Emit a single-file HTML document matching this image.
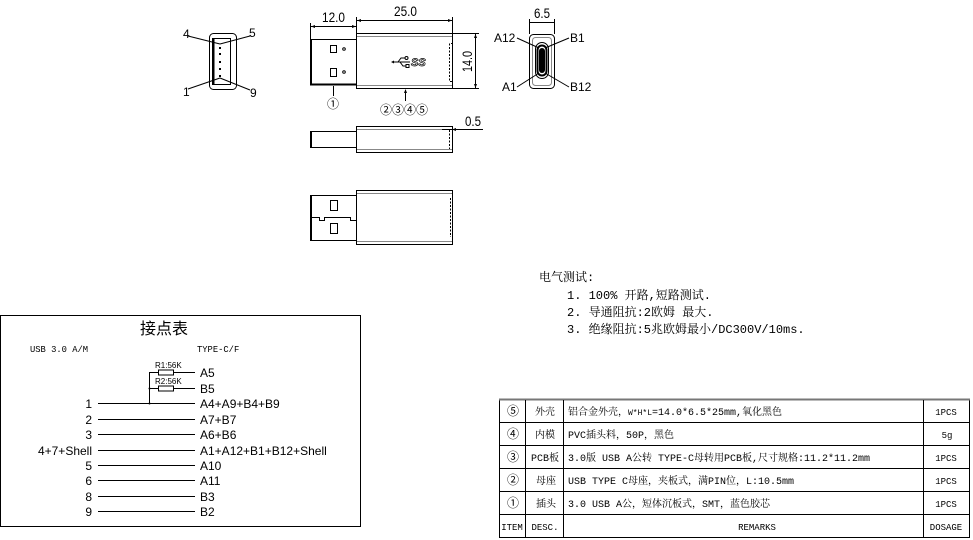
<!DOCTYPE html>
<html><head><meta charset="utf-8"><style>
html,body{margin:0;padding:0;background:#fff;}
svg{display:block;}
.s{font-family:"Liberation Sans","Noto Sans CJK SC",sans-serif;}
.m{font-family:"Liberation Mono","Noto Serif CJK SC",monospace;}
.c{font-family:"Noto Sans CJK SC","DejaVu Sans",sans-serif;}
</style></head><body>
<svg width="973" height="540" viewBox="0 0 973 540" xmlns="http://www.w3.org/2000/svg">
<g fill="none" stroke="#000" stroke-width="1">
<!-- USB A front view -->
<rect x="209.5" y="33.5" width="27" height="56" rx="4"/>
<rect x="212.5" y="38.5" width="18" height="46"/>
<line x1="213.5" y1="39" x2="213.5" y2="84" stroke-width="2"/>
<line x1="188" y1="36" x2="220" y2="44"/>
<line x1="250" y1="36" x2="220" y2="44"/>
<line x1="188" y1="89" x2="220" y2="78"/>
<line x1="250" y1="90" x2="220" y2="78"/>
</g>
<g fill="#000">
<rect x="219" y="47" width="2" height="2"/><rect x="219" y="53" width="2" height="2"/><rect x="219" y="61" width="2" height="2"/><rect x="219" y="68" width="2" height="2"/><rect x="219" y="75" width="2" height="2"/>
</g>
<g class="s" font-size="12" fill="#000">
<text x="183" y="38">4</text><text x="249" y="37">5</text><text x="183" y="96">1</text><text x="250" y="97">9</text>
</g>

<!-- Side view top -->
<g fill="none" stroke="#000" stroke-width="1">
<rect x="310.5" y="39.5" width="46" height="45"/>
<line x1="311" y1="39" x2="311" y2="85" stroke-width="2"/>
<line x1="310" y1="84.5" x2="357" y2="84.5" stroke-width="2"/>
<rect x="356.5" y="33.5" width="96" height="55"/>
<line x1="357" y1="36.5" x2="452" y2="36.5" stroke="#888"/>
<line x1="357" y1="85.5" x2="452" y2="85.5" stroke="#888"/>
<path d="M453 43.5 H449.5 V81.5 H453" stroke-dasharray="2,1.5"/>
<rect x="330.5" y="45.5" width="6" height="7"/>
<rect x="330.5" y="68.5" width="6" height="8"/>
<circle cx="344" cy="49" r="1.3"/>
<circle cx="344" cy="72" r="1.3"/>
<!-- dims -->
<line x1="310.5" y1="23" x2="310.5" y2="39"/>
<line x1="356.5" y1="17" x2="356.5" y2="33"/>
<line x1="452.5" y1="17" x2="452.5" y2="33"/>
<line x1="311" y1="26.5" x2="356" y2="26.5"/>
<line x1="357" y1="20.5" x2="452" y2="20.5"/>
<line x1="453" y1="33.5" x2="479" y2="33.5"/>
<line x1="453" y1="88.5" x2="479" y2="88.5"/>
<line x1="475.5" y1="34" x2="475.5" y2="88"/>
<!-- leaders -->
<line x1="333.5" y1="86" x2="333.5" y2="96"/>
<line x1="405.5" y1="90" x2="405.5" y2="101"/>
<!-- SS logo -->
<path d="M392 62 H410 M398 62 L401 58 H405 M400 62 L403 66 H406"/>
<circle cx="406.5" cy="58" r="1.5"/>
<rect x="406" y="64.5" width="3" height="3"/>
</g>
<g fill="#000">
<path d="M311 26.5 l4 -1.5 v3z M356 26.5 l-4 -1.5 v3z M357 20.5 l4 -1.5 v3z M452 20.5 l-4 -1.5 v3z M475.5 34 l-1.5 4 h3z M475.5 88 l-1.5 -4 h3z M405.5 89 l-1.5 4 h3z M391 62 l3 -1.5 v3z"/>
</g>
<text x="411" y="66" font-family="Liberation Sans" font-style="italic" font-weight="bold" font-size="11" fill="#fff" stroke="#000" stroke-width="0.7">SS</text>
<g class="s" font-size="14" fill="#000">
<text x="322" y="22" textLength="23" lengthAdjust="spacingAndGlyphs">12.0</text>
<text x="394" y="16" textLength="23" lengthAdjust="spacingAndGlyphs">25.0</text>
<text x="534" y="18" textLength="16" lengthAdjust="spacingAndGlyphs">6.5</text>
<text x="0" y="0" transform="translate(472,72) rotate(-90)" textLength="21" lengthAdjust="spacingAndGlyphs">14.0</text>
<text x="465" y="126" textLength="16" lengthAdjust="spacingAndGlyphs">0.5</text>
</g>
<g class="c" font-size="12" fill="#000">
<text x="327" y="108">①</text>
<text x="380" y="114">②③④⑤</text>
</g>

<!-- Type-C front view -->
<g fill="none" stroke="#000" stroke-width="1">
<rect x="529.5" y="34.5" width="25" height="54" rx="4"/>
<rect x="532.5" y="37.5" width="19" height="48" rx="3" stroke="#888"/>
<rect x="535.5" y="42.5" width="13" height="36" rx="6.5"/>
<rect x="537.5" y="45.5" width="9" height="30" rx="4.5" stroke-width="2"/>
<line x1="529.5" y1="19" x2="529.5" y2="34"/>
<line x1="554.5" y1="19" x2="554.5" y2="34"/>
<line x1="530" y1="22.5" x2="554" y2="22.5"/>
<line x1="517" y1="38" x2="539" y2="48"/>
<line x1="569" y1="38" x2="545" y2="48"/>
<line x1="517" y1="87" x2="539" y2="73"/>
<line x1="569" y1="87" x2="545" y2="73"/>
</g>
<rect x="539" y="48" width="6" height="25" rx="3" fill="#000"/>
<g class="s" font-size="12" fill="#000">
<text x="494" y="42">A12</text><text x="570" y="42">B1</text>
<text x="502" y="91">A1</text><text x="570" y="91">B12</text>
</g>

<!-- Side view middle -->
<g fill="none" stroke="#000" stroke-width="1">
<rect x="310.5" y="131.5" width="46" height="16"/>
<line x1="311" y1="131" x2="311" y2="148" stroke-width="2"/>
<rect x="356.5" y="126.5" width="96" height="26"/>
<line x1="357" y1="129.5" x2="452" y2="129.5" stroke="#888"/>
<line x1="357" y1="149.5" x2="452" y2="149.5" stroke="#888"/>
<line x1="449.5" y1="130" x2="449.5" y2="149" stroke-dasharray="2,1.5"/>
<line x1="442" y1="129.5" x2="483" y2="129.5"/>
</g>
<path d="M452 129.5 l4 -1.5 v3z" fill="#000"/>

<!-- Bottom view -->
<g fill="none" stroke="#000" stroke-width="1">
<rect x="310.5" y="195.5" width="46" height="45"/>
<line x1="311" y1="195" x2="311" y2="241" stroke-width="2"/>
<rect x="356.5" y="190.5" width="96" height="54"/>
<line x1="357" y1="193.5" x2="452" y2="193.5" stroke="#888"/>
<line x1="357" y1="241.5" x2="452" y2="241.5" stroke="#888"/>
<line x1="450.5" y1="198" x2="450.5" y2="237" stroke-dasharray="2,1.5"/>
<rect x="330.5" y="200.5" width="7" height="10"/>
<rect x="330.5" y="223.5" width="7" height="10"/>
<path d="M311 217.5 H319.5 V220.5 H324.5 V217.5 H350.5 V220.5 H357"/>
</g>

<!-- Electrical test -->
<g class="m" font-size="12" fill="#000">
<text x="539" y="281">电气测试:</text>
<text x="567" y="299">1. 100% 开路,短路测试.</text>
<text x="567" y="316">2. 导通阻抗:2欧姆 最大.</text>
<text x="567" y="333">3. 绝缘阻抗:5兆欧姆最小/DC300V/10ms.</text>
</g>

<!-- Contact table -->
<rect x="0.5" y="315.5" width="360" height="211" fill="none" stroke="#000"/>
<text x="164" y="334" text-anchor="middle" font-family="Noto Sans CJK SC" font-size="16" fill="#000">接点表</text>
<g class="m" font-size="8.8" fill="#000">
<text x="30" y="352">USB 3.0 A/M</text>
<text x="197" y="352">TYPE-C/F</text>
</g>
<g fill="none" stroke="#000" stroke-width="1">
<line x1="149" y1="372.5" x2="195" y2="372.5"/>
<line x1="149" y1="388.5" x2="195" y2="388.5"/>
<line x1="149.5" y1="372" x2="149.5" y2="403"/>
<line x1="98" y1="403.5" x2="195" y2="403.5"/>
<line x1="98" y1="419.5" x2="195" y2="419.5"/>
<line x1="98" y1="434.5" x2="195" y2="434.5"/>
<line x1="98" y1="450.5" x2="195" y2="450.5"/>
<line x1="98" y1="465.5" x2="195" y2="465.5"/>
<line x1="98" y1="480.5" x2="195" y2="480.5"/>
<line x1="98" y1="496.5" x2="195" y2="496.5"/>
<line x1="98" y1="511.5" x2="195" y2="511.5"/>
</g>
<rect x="158.5" y="370" width="15" height="5" fill="#fff" stroke="#000"/>
<rect x="158.5" y="386" width="15" height="5" fill="#fff" stroke="#000"/>
<circle cx="149.5" cy="388.5" r="1" fill="#000"/>
<circle cx="149.5" cy="403.5" r="1" fill="#000"/>
<g class="s" font-size="8" fill="#000">
<text x="155" y="368">R1:56K</text>
<text x="155" y="384">R2:56K</text>
</g>
<g class="s" font-size="12" fill="#000">
<text x="200" y="377">A5</text>
<text x="200" y="393">B5</text>
<text x="92" y="408" text-anchor="end">1</text><text x="200" y="408">A4+A9+B4+B9</text>
<text x="92" y="424" text-anchor="end">2</text><text x="200" y="424">A7+B7</text>
<text x="92" y="439" text-anchor="end">3</text><text x="200" y="439">A6+B6</text>
<text x="92" y="455" text-anchor="end">4+7+Shell</text><text x="200" y="455">A1+A12+B1+B12+Shell</text>
<text x="92" y="470" text-anchor="end">5</text><text x="200" y="470">A10</text>
<text x="92" y="485" text-anchor="end">6</text><text x="200" y="485">A11</text>
<text x="92" y="501" text-anchor="end">8</text><text x="200" y="501">B3</text>
<text x="92" y="516" text-anchor="end">9</text><text x="200" y="516">B2</text>
</g>

<!-- BOM table -->
<g fill="none" stroke="#000" stroke-width="1">
<rect x="499.5" y="399.5" width="470" height="138"/>
<line x1="499" y1="399.5" x2="970" y2="399.5" stroke="#777" stroke-width="2"/>
<line x1="500" y1="422.5" x2="970" y2="422.5"/>
<line x1="500" y1="445.5" x2="970" y2="445.5"/>
<line x1="500" y1="468.5" x2="970" y2="468.5"/>
<line x1="500" y1="491.5" x2="970" y2="491.5"/>
<line x1="500" y1="514.5" x2="970" y2="514.5"/>
<line x1="525.5" y1="400" x2="525.5" y2="538"/>
<line x1="563.5" y1="400" x2="563.5" y2="538"/>
<line x1="923.5" y1="400" x2="923.5" y2="538"/>
</g>
<g class="c" font-size="12" fill="#000" text-anchor="middle">
<text x="513" y="415">⑤</text>
<text x="513" y="438">④</text>
<text x="513" y="461">③</text>
<text x="513" y="484">②</text>
<text x="513" y="507">①</text>
</g>
<g class="m" font-size="10" fill="#000">
<g text-anchor="middle">
<text x="545" y="415">外壳</text>
<text x="545" y="438">内模</text>
<text x="545" y="461">PCB板</text>
<text x="546" y="484">母座</text>
<text x="546" y="507">插头</text>
<text x="512" y="530" font-size="9">ITEM</text>
<text x="545" y="530" font-size="9">DESC.</text>
<text x="757" y="530" font-size="9">REMARKS</text>
<text x="946" y="415" font-size="9">1PCS</text>
<text x="947" y="438" font-size="9">5g</text>
<text x="946" y="461" font-size="9">1PCS</text>
<text x="946" y="484" font-size="9">1PCS</text>
<text x="946" y="507" font-size="9">1PCS</text>
<text x="946" y="530" font-size="9">DOSAGE</text>
</g>
<text x="568" y="415">铝合金外壳，<tspan font-size="8">W*H*L</tspan>=14.0*6.5*25mm,氧化黑色</text>
<text x="568" y="438">PVC插头料，50P，黑色</text>
<text x="568" y="461">3.0版 USB A公转 TYPE-C母转用PCB板,尺寸规格:11.2*11.2mm</text>
<text x="568" y="484">USB TYPE C母座，夹板式，满PIN位，L:10.5mm</text>
<text x="568" y="507">3.0 USB A公，短体沉板式，SMT，蓝色胶芯</text>
</g>
</svg>
</body></html>
